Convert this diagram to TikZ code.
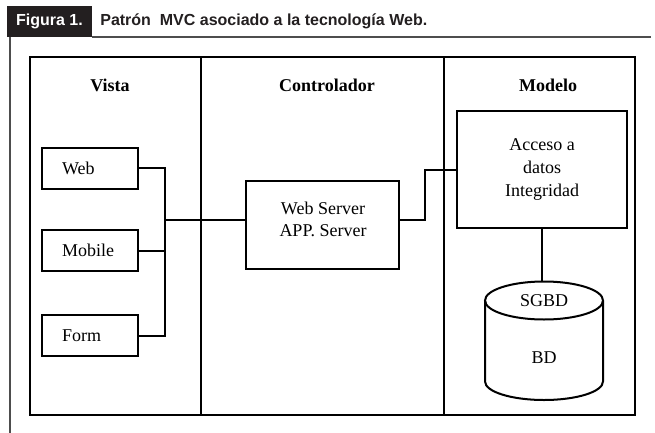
\documentclass[tikz,border=0pt]{standalone}
\usepackage{fontspec}
\setmainfont{Liberation Serif}
\newfontfamily\headfont{Liberation Sans}
\usetikzlibrary{positioning}
\definecolor{tabdark}{HTML}{231F20}
\definecolor{rulegray}{HTML}{4D4D4D}

\begin{document}
\begin{tikzpicture}[x=1pt, y=1pt, line width=2pt,
    every node/.style={font=\fontsize{18}{22.5}\selectfont},
    colhead/.style={font=\fontsize{18}{22.5}\selectfont\bfseries},
    figtab/.style={font=\headfont\bfseries\fontsize{16}{19}\selectfont},
    vbox/.style={draw, minimum width=96pt, minimum height=41pt, text width=56pt, inner xsep=20pt, align=left},
    bigbox/.style={draw, align=center}]
    \useasboundingbox (0,0) rectangle (655,-433);

    % cabecera de la figura
    \fill[tabdark] (7,-6) rectangle (92,-37);
    \node [figtab, text=white] (fig) at (49.5,-21.5) {Figura 1.};
    \node [figtab, text=tabdark, anchor=west] (title) at (96,-21.5) {Patrón\ \ MVC asociado a la tecnología Web.};
    \draw[rulegray, line width=1.5pt] (92,-37) -- (651,-37);
    \draw[rulegray] (10,-37) -- (10,-433);

    % marco y columnas
    \draw (30,-57) rectangle (634.5,-414.5);
    \draw (201,-57) -- (201,-414.5);
    \draw (444,-57) -- (444,-414.5);

    \node [colhead] (vista) at (110,-85) {Vista};
    \node [colhead] (ctrl) at (327,-85) {Controlador};
    \node [colhead] (modelo) at (548,-85) {Modelo};

    \node [vbox] (web) at (90,-168) {Web};
    \node [vbox] (mobile) [below=39.5pt of web] {Mobile};
    \node [vbox] (form) [below=42pt of mobile] {Form};

    \node [bigbox, minimum width=153pt, minimum height=88pt] (srv) at (322.5,-225) {};
    \node [align=center] (srvtext) at (323,-219.5) {Web Server\\APP. Server};

    \node [bigbox, minimum width=170pt, minimum height=117pt] (acc) at (542,-169.5) {Acceso a\\datos\\Integridad};

    \coordinate (dbtop) at (544,-281.5);
    \draw[fill=white] (485,-300.5) -- (485,-381.5) arc[start angle=180, end angle=360, x radius=59, y radius=18.5] -- (603,-300.5);
    \draw (544,-300.5) ellipse [x radius=59, y radius=19];
    \node (sgbd) at (544,-301) {SGBD};
    \node (bd) at (544,-358) {BD};

    % conexiones
    \coordinate (bus) at (165,-219.5);
    \coordinate (jog) at (425,-219.5);
    \draw (web.east) -| (bus);
    \draw (form.east) -| (bus);
    \draw (mobile.east) -- (mobile.east -| bus);
    \draw (bus) -- (bus -| srv.west);
    \draw (jog -| srv.east) -- (jog) |- (acc.west);
    \draw (acc.south) -- (acc.south |- dbtop);

\end{tikzpicture}
\end{document}
